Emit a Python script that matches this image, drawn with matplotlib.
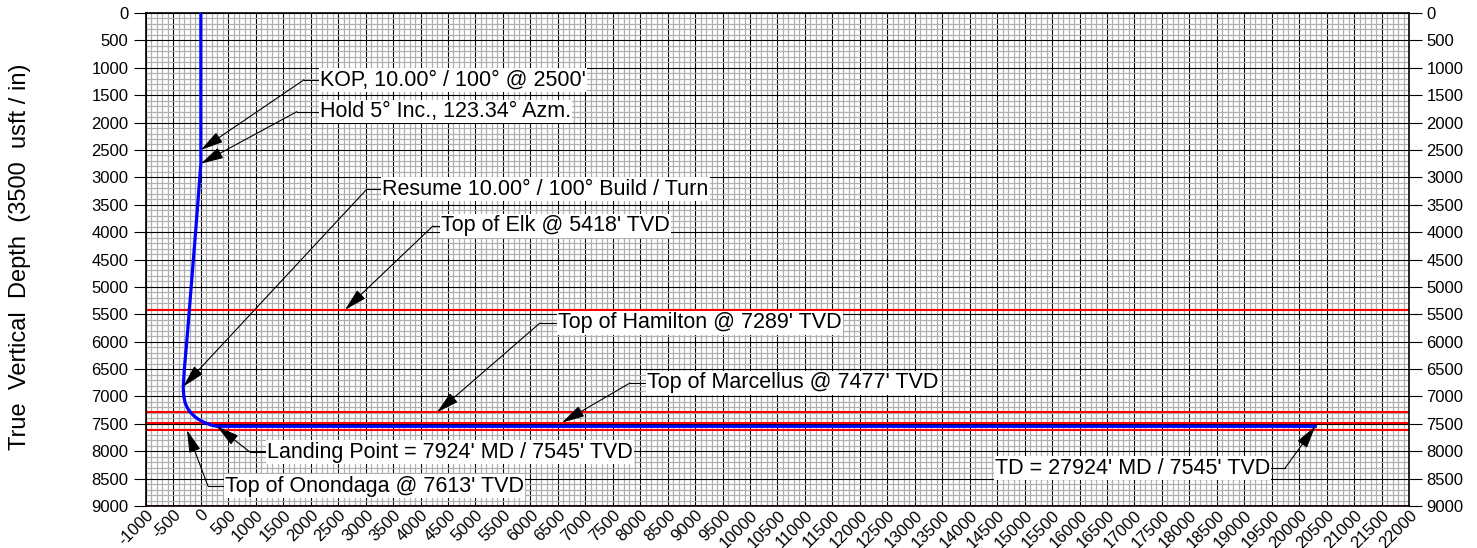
import numpy as np
import matplotlib
matplotlib.use("Agg")
import matplotlib.pyplot as plt
from matplotlib.ticker import MultipleLocator

plt.rcParams['font.family'] = ['Liberation Sans', 'DejaVu Sans']
plt.rcParams['axes.unicode_minus'] = False

# Well path (vertical section, TVD) in usft
well_vs = [0, 0, 0, -80, -160, -240, -300, -321, -310, -285, -240, -190, -120, -40, 75, 180, 293, 20293]
well_tvd = [0, 2500, 2750, 3800, 4800, 5800, 6500, 6830, 7000, 7120, 7220, 7289, 7360, 7420, 7480, 7520, 7545, 7545]

# Formation tops (TVD)
formation_names = ['Elk', 'Hamilton', 'Marcellus', 'Onondaga']
formation_tvd = [5418, 7289, 7477, 7613]
bottom_tvd = 9000

# Annotations: label, target (vs, tvd), elbow (vs, tvd), text x, alignment
ann_labels = [
    "KOP, 10.00\u00b0 / 100\u00b0 @ 2500'",
    "Hold 5\u00b0 Inc., 123.34\u00b0 Azm.",
    "Resume 10.00\u00b0 / 100\u00b0 Build / Turn",
    "Top of Elk @ 5418' TVD",
    "Top of Hamilton @ 7289' TVD",
    "Top of Marcellus @ 7477' TVD",
    "Landing Point = 7924' MD / 7545' TVD",
    "Top of Onondaga @ 7613' TVD",
    "TD = 27924' MD / 7545' TVD",
]
ann_target = [(0, 2500), (0, 2750), (-321, 6820), (2625, 5418), (4300, 7289),
              (6577, 7477), (293, 7545), (-253, 7613), (20293, 7545)]
ann_elbow = [(1877, 1220), (1750, 1800), (3025, 3213), (4227, 3888), (6175, 5659),
             (7814, 6754), (894, 8014), (129, 8635), (19743, 8306)]
ann_text_x = [2169, 2169, 3298, 4372, 6503, 8124, 1204, 439, 19470]
ann_align = ['left'] * 8 + ['right']

fig = plt.figure(figsize=(14.77, 5.48), dpi=100)
ax = fig.add_axes([0.0988, 0.0766, 0.8552, 0.8997])

ax.set_xlim(-1000, 22000)
ax.set_ylim(9000, 0)

# Grid
ax.xaxis.set_major_locator(MultipleLocator(500))
ax.yaxis.set_major_locator(MultipleLocator(500))
ax.xaxis.set_minor_locator(MultipleLocator(100))
ax.yaxis.set_minor_locator(MultipleLocator(100))
ax.grid(which='minor', color='#b0b0b0', linewidth=0.9, zorder=0)
ax.grid(which='major', color='black', linewidth=0.8, zorder=0.5)
ax.set_axisbelow(True)

# Formation tops
for tvd in formation_tvd:
    ax.axhline(tvd, color='red', linewidth=1.5, zorder=2)
ax.axhline(bottom_tvd, color='red', linewidth=2.0, zorder=2)

# Well path
ax.plot(well_vs, well_tvd, color='blue', linewidth=2.3, zorder=3, solid_joinstyle='round')

# Annotations
for label, tip, elbow, tx, ha in zip(ann_labels, ann_target, ann_elbow, ann_text_x, ann_align):
    ax.plot([elbow[0], tx], [elbow[1], elbow[1]], color='black', linewidth=0.8, zorder=4)
    ax.annotate('', xy=tip, xytext=elbow,
                arrowprops=dict(arrowstyle='-|>,head_length=0.7,head_width=0.18',
                                color='black', linewidth=0.8, shrinkA=0, shrinkB=0,
                                mutation_scale=20), zorder=4)
    ax.text(tx, elbow[1], label, ha=ha, va='center', fontsize=15.5, zorder=5,
            bbox=dict(facecolor='white', edgecolor='none', pad=1.0))

# Ticks
ax.tick_params(axis='y', which='major', labelsize=12, length=9, width=0.8, direction='out',
               right=True, labelright=True)
ax.tick_params(axis='x', which='major', labelsize=12, length=0, pad=1)
ax.tick_params(axis='both', which='minor', length=0)
for lbl in ax.get_xticklabels():
    lbl.set_rotation(45)
    lbl.set_ha('right')
    lbl.set_va('top')
    lbl.set_rotation_mode('anchor')

for sp in ax.spines.values():
    sp.set_linewidth(1.2)

fig.text(0.0135, 0.531, 'True  Vertical  Depth  (3500  usft / in)', rotation=90,
         ha='center', va='center', fontsize=17)

fig.savefig('out.png', dpi=100)
